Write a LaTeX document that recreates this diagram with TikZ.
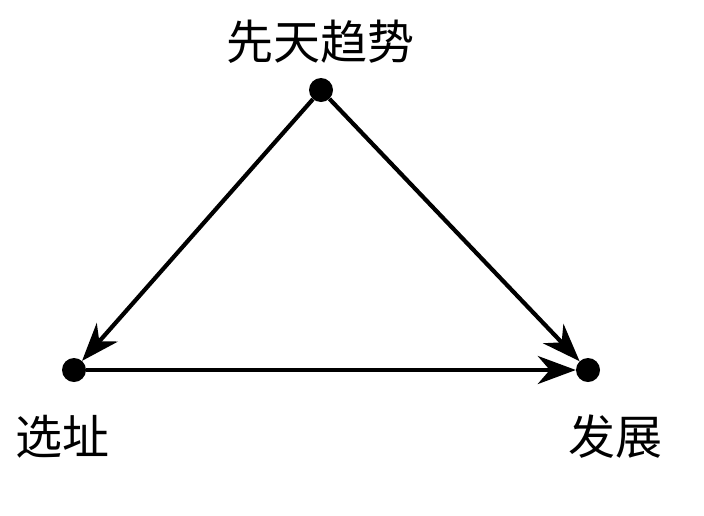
\documentclass[tikz,border=0pt]{standalone}
\usepackage{fontspec}
\setmainfont{Noto Sans CJK SC}
\usetikzlibrary{arrows.meta}
\begin{document}
\begin{tikzpicture}[x=1pt,y=-1pt,
  dot/.style={circle,fill=black,inner sep=0pt,minimum size=24pt},
  lbl/.style={font=\fontsize{47}{50}\selectfont,inner sep=0pt},
  conn/.style={line width=4.2pt,-{Stealth[length=38pt,width=28pt,inset=12pt]}}]
\useasboundingbox (0,0) rectangle (704,515);
\node[dot] (t) at (321,90) {};
\node[dot] (l) at (74,370) {};
\node[dot] (r) at (588,370) {};
\node[lbl] (tl) at (320,42) {先天趋势};
\node[lbl] (ll) at (62,437) {选址};
\node[lbl] (rl) at (615,437) {发展};
\draw[conn] (t) -- (l);
\draw[conn] (t) -- (r);
\draw[conn] (l) -- (r);
\end{tikzpicture}
\end{document}
